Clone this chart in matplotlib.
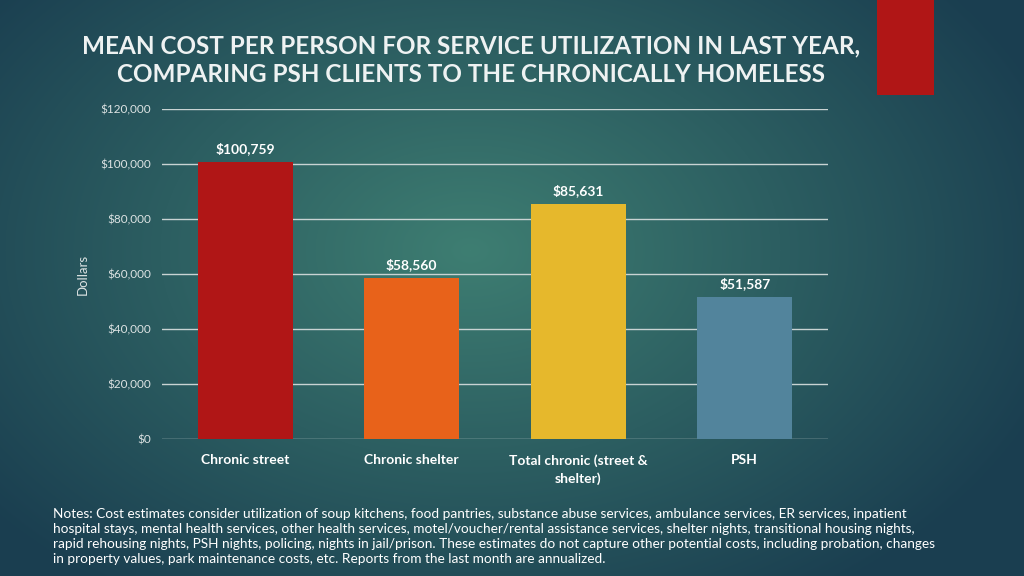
import matplotlib.pyplot as plt
import numpy as np
from matplotlib.patches import Rectangle

categories = ["Chronic street", "Chronic shelter", "Total chronic (street &\nshelter)", "PSH"]
values = [100759, 58560, 85631, 51587]
bar_colors = ["#b01616", "#e8621a", "#e6b82c", "#52849c"]
yticks = [0, 20000, 40000, 60000, 80000, 100000, 120000]

title = ("MEAN COST PER PERSON FOR SERVICE UTILIZATION IN LAST YEAR,\n"
         "COMPARING PSH CLIENTS TO THE CHRONICALLY HOMELESS")
notes = ("Notes: Cost estimates consider utilization of soup kitchens, food pantries, substance abuse services, ambulance services, ER services, inpatient\n"
         "hospital stays, mental health services, other health services, motel/voucher/rental assistance services, shelter nights, transitional housing nights,\n"
         "rapid rehousing nights, PSH nights, policing, nights in jail/prison. These estimates do not capture other potential costs, including probation, changes\n"
         "in property values, park maintenance costs, etc. Reports from the last month are annualized.")

plt.rcParams['font.family'] = ['Lato', 'DejaVu Sans']

fig = plt.figure(figsize=(10.24, 5.76), dpi=100)

# radial background
bg = fig.add_axes([0, 0, 1, 1], zorder=-10)
h, w = 576, 1024
yy, xx = np.mgrid[0:h, 0:w]
r = np.sqrt(((xx - 470) / 620.0) ** 2 + ((yy - 250) / 420.0) ** 2)
r = np.clip(r, 0, 1)
inner = np.array([0x3e, 0x7e, 0x72]) / 255.0
outer = np.array([0x1a, 0x3e, 0x50]) / 255.0
img = inner[None, None, :] * (1 - r[..., None]) + outer[None, None, :] * r[..., None]
bg.imshow(img, aspect='auto', extent=[0, 1, 0, 1])
bg.axis('off')

fig.patches.append(Rectangle((877 / 1024, 1 - 95 / 576), 57 / 1024, 95 / 576,
                             transform=fig.transFigure, facecolor="#b01616",
                             edgecolor="none", zorder=5))

ax = fig.add_axes([162 / 1024, 1 - 439 / 576, 666 / 1024, 330 / 576])
ax.set_facecolor('none')
x = np.arange(len(categories))
ax.bar(x, values, width=0.57, color=bar_colors, zorder=3)
for xi, v in zip(x, values):
    ax.text(xi, v + 2500, "${:,}".format(v), ha='center', va='bottom',
            color='white', fontsize=10, fontweight='bold')

ax.set_xlim(-0.5, 3.5)
ax.set_ylim(0, 120000)
ax.set_yticks(yticks)
ax.set_yticklabels(["${:,}".format(t) for t in yticks], color='#dde3e3', fontsize=8.5)
ax.set_xticks(x)
ax.set_xticklabels(categories, color='white', fontsize=10, fontweight='bold',
                   linespacing=1.55)
ax.tick_params(axis='x', length=0, pad=11)
ax.tick_params(axis='y', length=0, pad=8)
ax.grid(axis='y', color='#c9d3d3', linewidth=1, zorder=0)
for s in ax.spines.values():
    s.set_visible(False)
ax.set_ylabel("Dollars", color='#dde3e3', fontsize=9.5, labelpad=8)

fig.text(471 / 1024, 1 - 60 / 576, title, ha='center', va='center', color='#eef2f2',
         fontsize=17.5, fontweight='bold', linespacing=1.3)

fig.text(53 / 1024, 1 - 508 / 576, notes, ha='left', va='top', color='white',
         fontsize=9.8, linespacing=1.3)

fig.savefig("out.png", dpi=100)
